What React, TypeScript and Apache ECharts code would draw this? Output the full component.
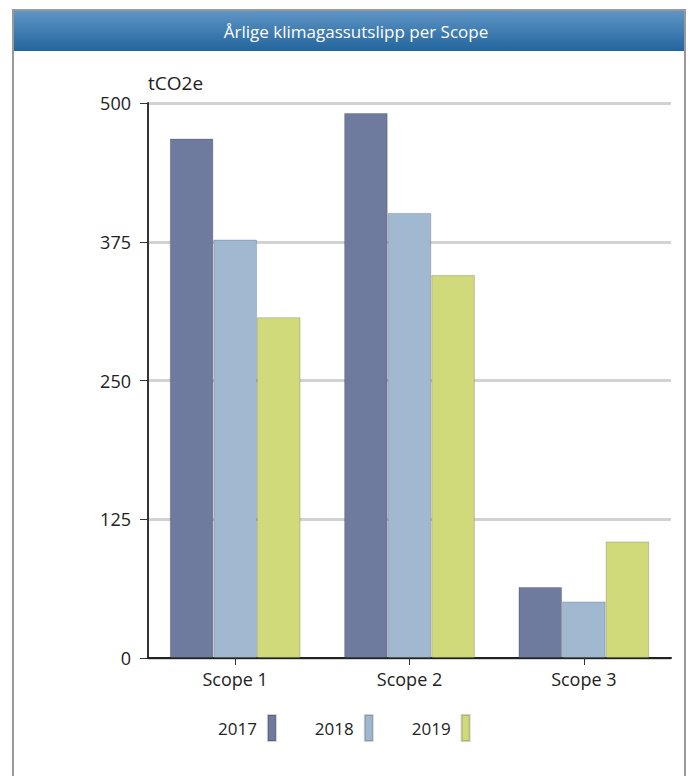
import React, { useEffect, useRef } from "react";
import * as echarts from "echarts";

const TITLE = "Årlige klimagassutslipp per Scope";
const UNIT = "tCO2e";
const categories = ["Scope 1", "Scope 2", "Scope 3"];
const years = ["2017", "2018", "2019"];
const values2017 = [468, 491, 64];
const values2018 = [377, 401, 51];
const values2019 = [307, 345, 105];
const colors = ["#6e7b9f", "#a0b8d0", "#d0da7a"];

const FONT = "'Open Sans', 'DejaVu Sans', sans-serif";

export default function App() {
  const ref = useRef<HTMLDivElement>(null);
  useEffect(() => {
    if (!ref.current) return;
    const chart = echarts.init(ref.current, null, { renderer: "svg" });
    const seriesData = [values2017, values2018, values2019];
    chart.setOption({
      animation: false,
      backgroundColor: "#ffffff",
      textStyle: { fontFamily: FONT },
      graphic: [
        {
          type: "rect",
          shape: { x: 12, y: 11, width: 672, height: 40 },
          style: {
            fill: new echarts.graphic.LinearGradient(0, 0, 0, 1, [
              { offset: 0, color: "#5f95c5" },
              { offset: 1, color: "#23659d" },
            ]),
          },
          z: 0,
        },
        {
          type: "rect",
          shape: { x: 12, y: 9, width: 674, height: 2 },
          style: { fill: "#999999" },
        },
        {
          type: "rect",
          shape: { x: 12, y: 9, width: 2, height: 767 },
          style: { fill: "#999999" },
        },
        {
          type: "rect",
          shape: { x: 684, y: 9, width: 2, height: 767 },
          style: { fill: "#999999" },
        },
        {
          type: "text",
          x: 356,
          y: 31,
          style: {
            text: TITLE,
            fill: "#ffffff",
            font: `17px ${FONT}`,
            textAlign: "center",
            textVerticalAlign: "middle",
          },
          z: 10,
        },
      ],
      legend: {
        data: years,
        left: 213,
        top: 709,
        align: "right",
        icon: "rect",
        itemWidth: 8,
        itemHeight: 26,
        itemGap: 38,
        textStyle: {
          fontFamily: FONT,
          fontSize: 17,
          color: "#222222",
          padding: [0, 6, 0, 0],
        },
      },
      grid: { left: 148, right: 19, top: 103, bottom: 118, containLabel: false },
      xAxis: {
        type: "category",
        data: categories,
        axisLine: { show: true, lineStyle: { color: "#222222", width: 2 } },
        axisTick: { show: true, alignWithLabel: true, length: 7, lineStyle: { color: "#333333" } },
        axisLabel: { fontFamily: FONT, fontSize: 18, color: "#222222", margin: 12 },
        splitLine: { show: false },
      },
      yAxis: {
        type: "value",
        min: 0,
        max: 500,
        interval: 125,
        name: UNIT,
        nameLocation: "end",
        nameGap: 20,
        nameTextStyle: { fontFamily: FONT, fontSize: 19, color: "#222222", align: "left", verticalAlign: "middle" },
        axisLine: { show: true, lineStyle: { color: "#333333", width: 2 } },
        axisTick: { show: true, length: 8, lineStyle: { color: "#333333" } },
        axisLabel: { fontFamily: FONT, fontSize: 18, color: "#222222", margin: 17 },
        splitLine: { show: true, lineStyle: { color: "#d2d2d2", width: 3 } },
      },
      series: years.map((y, i) => ({
        name: y,
        type: "bar",
        data: seriesData[i],
        barGap: "0%",
        barCategoryGap: "25%",
        itemStyle: { color: colors[i], borderColor: "rgba(0,0,0,0.18)", borderWidth: 1 },
        z: 3,
      })),
    });
    return () => chart.dispose();
  }, []);
  return (
    <div
      ref={ref}
      style={{ position: "absolute", left: 0, top: 0, width: 690, height: 776 }}
    />
  );
}
